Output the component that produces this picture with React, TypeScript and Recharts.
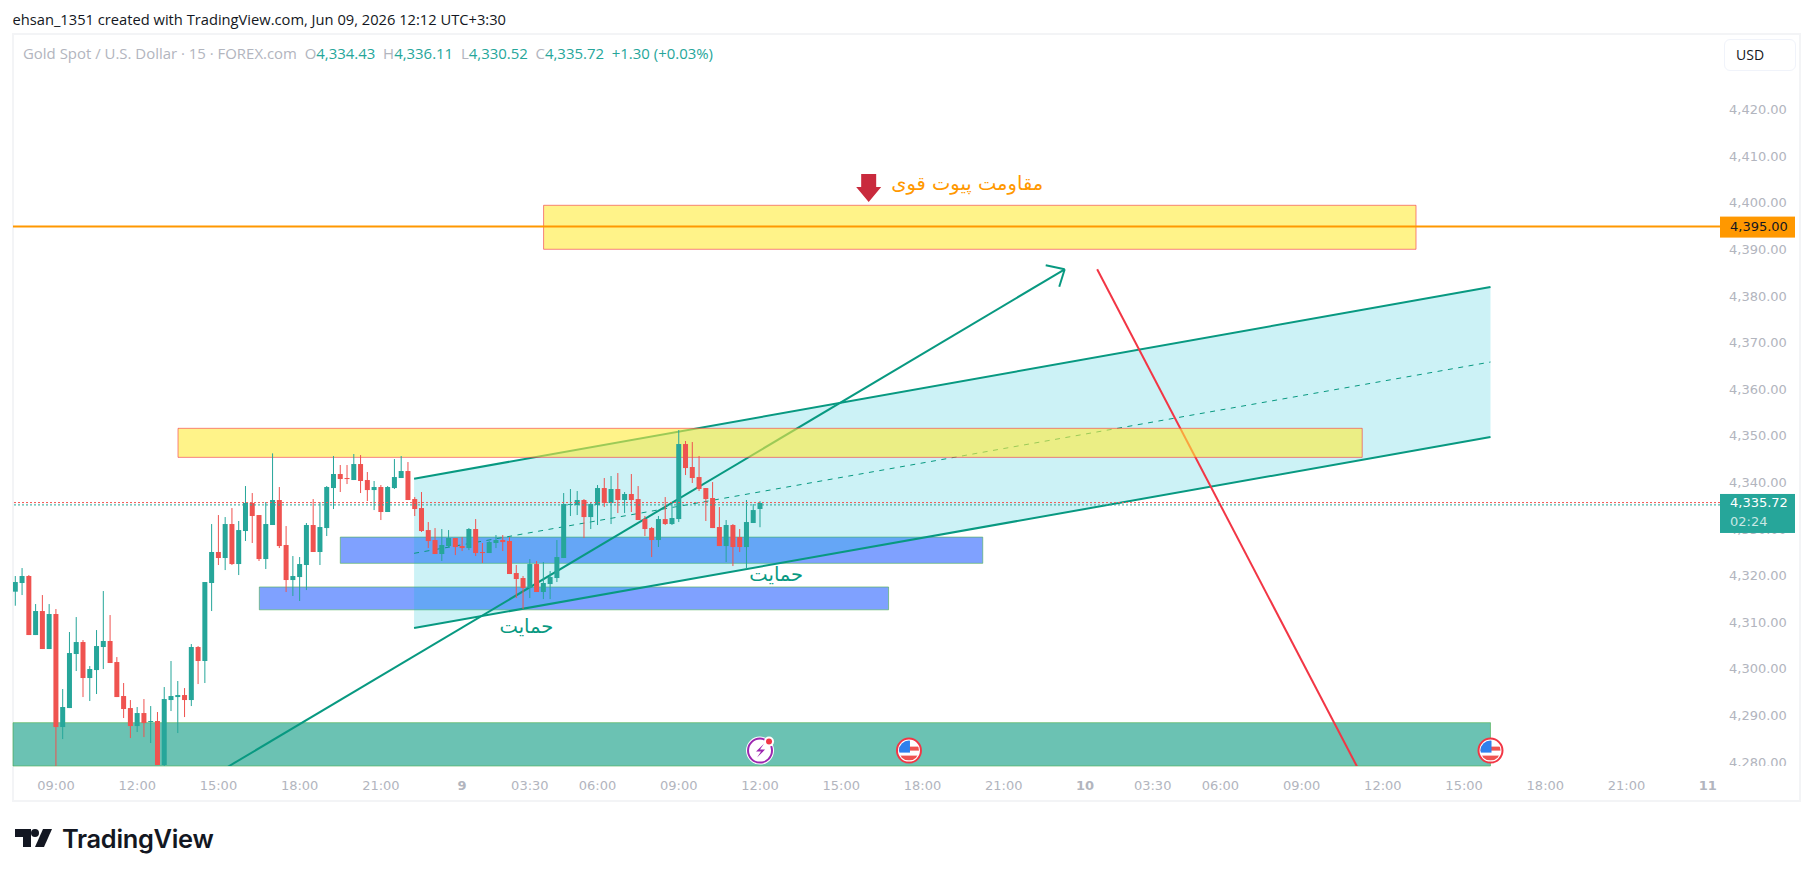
import React from "react";
import {
  ComposedChart, Bar, Line, Area, XAxis, YAxis, ReferenceArea, ReferenceLine, ReferenceDot,
} from "recharts";

const opens = [
  4316.69, 4318.55, 4320.05, 4307.39, 4312.54, 4304.39, 4311.90, 4287.66, 4291.73, 4303.32,
  4305.89, 4298.17, 4299.88, 4304.82, 4306.11, 4301.60, 4294.31, 4291.73, 4287.87, 4290.66,
  4288.73, 4288.95, 4279.51, 4293.45, 4294.09, 4294.52, 4293.45, 4304.82, 4301.82, 4318.55,
  4325.20, 4323.91, 4331.20, 4322.62, 4329.70, 4335.71, 4333.13, 4323.69, 4330.99, 4336.35,
  4326.70, 4319.19, 4319.83, 4322.41, 4330.99, 4325.20, 4330.34, 4338.92, 4341.93, 4341.07,
  4340.64, 4344.07, 4340.64, 4338.49, 4339.14, 4333.78, 4338.92, 4341.07, 4342.57, 4336.56,
  4334.63, 4329.91, 4327.77, 4324.77, 4326.48, 4328.20, 4326.48, 4326.05, 4330.13, 4325.20,
  4324.98, 4327.13, 4327.77, 4327.56, 4320.69, 4319.62, 4317.47, 4322.62, 4316.62, 4318.33,
  4319.62, 4323.91, 4335.28, 4335.28, 4336.35, 4332.70, 4335.28, 4338.92, 4335.71, 4338.71,
  4336.35, 4337.64, 4336.56, 4332.27, 4330.34, 4327.77, 4332.27, 4331.20, 4332.27, 4348.36,
  4343.43, 4341.28, 4338.92, 4336.78, 4330.56, 4326.48, 4330.99, 4328.41, 4326.27, 4331.42, 4334.43,
];
const closes = [
  4318.76, 4320.05, 4307.39, 4312.54, 4304.39, 4311.90, 4287.66, 4291.95, 4303.53, 4305.89,
  4298.17, 4300.10, 4305.03, 4306.11, 4301.39, 4294.09, 4291.52, 4287.87, 4290.66, 4288.52,
  4288.95, 4279.51, 4293.66, 4294.31, 4294.52, 4293.45, 4304.82, 4301.82, 4318.76, 4325.20,
  4323.91, 4331.20, 4322.62, 4329.91, 4335.71, 4332.92, 4323.69, 4331.20, 4336.35, 4326.48,
  4319.19, 4320.05, 4322.62, 4330.99, 4325.20, 4330.56, 4339.14, 4341.93, 4340.85, 4340.85,
  4344.07, 4340.43, 4338.49, 4339.14, 4333.78, 4339.14, 4341.28, 4342.57, 4336.35, 4334.42,
  4329.70, 4327.56, 4324.77, 4326.70, 4328.20, 4326.27, 4326.05, 4330.13, 4324.98, 4324.98,
  4327.34, 4327.77, 4327.34, 4320.48, 4319.40, 4317.47, 4322.62, 4316.62, 4318.55, 4319.83,
  4324.12, 4335.49, 4335.49, 4336.35, 4332.70, 4335.49, 4338.92, 4335.71, 4338.71, 4336.35,
  4337.64, 4336.35, 4332.06, 4330.13, 4327.77, 4332.27, 4331.20, 4332.49, 4348.36, 4343.21,
  4341.07, 4338.71, 4336.56, 4330.34, 4326.48, 4330.99, 4326.27, 4326.27, 4331.63, 4334.20, 4335.72,
];
const highs = [
  4320.05, 4321.76, 4320.26, 4314.04, 4315.97, 4314.04, 4312.97, 4295.81, 4308.04, 4311.25,
  4306.32, 4300.74, 4308.46, 4316.83, 4311.68, 4302.67, 4297.10, 4293.45, 4291.95, 4293.66,
  4292.16, 4290.88, 4296.24, 4301.82, 4297.53, 4296.02, 4305.46, 4305.03, 4318.76, 4331.20,
  4333.13, 4332.70, 4334.63, 4331.85, 4339.35, 4337.85, 4333.13, 4335.92, 4346.36, 4339.14,
  4330.77, 4324.34, 4324.12, 4331.42, 4336.56, 4335.92, 4339.35, 4345.79, 4343.86, 4343.86,
  4346.22, 4346.00, 4342.36, 4340.43, 4339.57, 4339.35, 4345.14, 4345.79, 4344.50, 4336.99,
  4338.07, 4331.63, 4330.34, 4330.13, 4329.91, 4328.20, 4328.41, 4330.34, 4332.27, 4327.13,
  4327.56, 4328.84, 4328.84, 4328.41, 4322.41, 4320.05, 4323.69, 4323.27, 4323.05, 4321.12,
  4327.77, 4337.85, 4338.71, 4338.28, 4336.56, 4335.71, 4339.57, 4341.07, 4341.50, 4342.14,
  4338.07, 4341.93, 4339.35, 4332.92, 4330.56, 4332.92, 4336.99, 4335.49, 4351.36, 4349.01,
  4348.79, 4345.79, 4338.92, 4340.21, 4334.85, 4332.06, 4331.20, 4330.13, 4336.35, 4335.49, 4336.11,
];
const lows = [
  4313.68, 4315.97, 4307.39, 4307.39, 4304.39, 4304.39, 4278.00, 4285.08, 4291.73, 4299.67,
  4294.09, 4293.24, 4294.74, 4300.10, 4301.39, 4294.09, 4289.59, 4285.30, 4286.59, 4285.51,
  4284.23, 4279.51, 4279.00, 4291.09, 4286.37, 4289.80, 4292.16, 4296.88, 4297.10, 4312.54,
  4322.41, 4321.33, 4322.41, 4320.26, 4327.56, 4327.13, 4323.27, 4321.55, 4330.99, 4326.05,
  4316.62, 4315.76, 4314.69, 4317.04, 4325.20, 4322.41, 4328.63, 4334.42, 4338.07, 4339.78,
  4340.64, 4337.85, 4336.14, 4334.20, 4332.06, 4333.78, 4338.71, 4341.07, 4336.35, 4332.92,
  4329.49, 4326.05, 4324.77, 4323.27, 4326.27, 4324.55, 4325.41, 4325.62, 4324.34, 4322.84,
  4324.98, 4326.05, 4325.41, 4320.48, 4315.33, 4312.97, 4315.33, 4316.62, 4315.11, 4315.11,
  4318.76, 4323.91, 4332.92, 4333.13, 4328.20, 4330.13, 4330.99, 4334.85, 4331.20, 4333.56,
  4333.56, 4333.78, 4332.06, 4328.63, 4324.12, 4326.27, 4330.99, 4330.99, 4331.63, 4341.71,
  4340.00, 4338.28, 4331.85, 4330.34, 4326.48, 4323.05, 4322.19, 4325.20, 4321.55, 4331.42, 4330.52,
];

const timeTicks = [6, 18, 30, 42, 54, 66, 76, 86, 98, 110, 122, 134, 146, 158, 168, 178, 190, 202, 214, 226, 238, 250];
const timeLabels = ["09:00", "12:00", "15:00", "18:00", "21:00", "9", "03:30", "06:00", "09:00", "12:00", "15:00", "18:00", "21:00", "10", "03:30", "06:00", "09:00", "12:00", "15:00", "18:00", "21:00", "11"];
const priceTicks = [4280, 4290, 4300, 4310, 4320, 4330, 4340, 4350, 4360, 4370, 4380, 4390, 4400, 4410, 4420];

const candles = opens.map((o, i) => ({ i, o, h: highs[i], l: lows[i], c: closes[i] }));

const channelFill = [
  { i: 58.9, band: [4308.89, 4340.92] },
  { i: 217.9, band: [4349.86, 4382.04] },
];
const channelTop = [{ i: 58.9, v: 4340.92 }, { i: 217.9, v: 4382.04 }];
const channelMid = [{ i: 58.9, v: 4324.92 }, { i: 217.9, v: 4365.95 }];
const channelLow = [{ i: 58.9, v: 4308.89 }, { i: 217.9, v: 4349.86 }];
const arrowShaft = [{ i: 31.4, v: 4279.14 }, { i: 155.0, v: 4385.84 }];
const arrowHeadA = [{ i: 152.2, v: 4386.7 }, { i: 155.0, v: 4385.84 }];
const arrowHeadB = [{ i: 154.2, v: 4382.1 }, { i: 155.0, v: 4385.84 }];
const redLine = [{ i: 159.8, v: 4385.84 }, { i: 198.2, v: 4279.14 }];

const UP = "#26a69a";
const DOWN = "#ef5350";
const AXIS_FONT = "'DejaVu Sans', sans-serif";
const UI_FONT = "'Open Sans', sans-serif";
const AXIS_GRAY = "#b2b5be";

const Candle = (p: any) => {
  const { x, y, width, height, payload } = p;
  const d = payload;
  const h = Math.abs(height);
  const unit = h / (d.h - d.l);
  const top = Math.min(y, y + height);
  const yOf = (v: number) => top + (d.h - v) * unit;
  const bt = yOf(Math.max(d.o, d.c));
  const bb = yOf(Math.min(d.o, d.c));
  const cx = x + width / 2;
  const col = d.c >= d.o ? UP : DOWN;
  return (
    <g>
      <rect x={cx - 0.5} y={top} width={1} height={h} fill={col} />
      <rect x={cx - 2.5} y={bt} width={5} height={Math.max(bb - bt, 1)} fill={col} />
    </g>
  );
};

const XTick = (p: any) => {
  const idx = timeTicks.indexOf(p.payload.value);
  const label = timeLabels[idx];
  const bold = label.length <= 2;
  return (
    <text x={p.x} y={790} textAnchor="middle" fontFamily={AXIS_FONT} fontSize={13} fontWeight={bold ? 700 : 400} fill={AXIS_GRAY}>
      {label}
    </text>
  );
};

const YTick = (p: any) => {
  const v = p.payload.value;
  const hidden = v === 4330;
  return (
    <g>
      {hidden && (
        <clipPath id="below-close-tag"><rect x={1720} y={533} width={80} height={20} /></clipPath>
      )}
      <text
        x={1729} y={p.y + 4} fontFamily={AXIS_FONT} fontSize={13} fill={AXIS_GRAY}
        clipPath={hidden ? "url(#below-close-tag)" : undefined}
      >
        {v.toLocaleString("en-US", { minimumFractionDigits: 2, maximumFractionDigits: 2 })}
      </text>
    </g>
  );
};

const OrangeTag = (p: any) => {
  const y = p.viewBox.y;
  return (
    <g>
      <rect x={1720} y={y - 10} width={75} height={21} fill="#ff9800" />
      <text x={1730} y={y + 4.5} fontFamily={AXIS_FONT} fontSize={13} fill="#131722">4,395.00</text>
    </g>
  );
};
const CloseTag = (p: any) => {
  const y = p.viewBox.y;
  return (
    <g>
      <rect x={1720} y={y - 9} width={75} height={39} fill={UP} />
      <text x={1730} y={y + 4.5} fontFamily={AXIS_FONT} fontSize={13} fontWeight={500} fill="#ffffff">4,335.72</text>
      <text x={1730} y={y + 23.5} fontFamily={AXIS_FONT} fontSize={13} fill="#ffffff" fillOpacity={0.75}>02:24</text>
    </g>
  );
};

const Note = (color: string, text: string, size: number) => (p: any) => (
  <text x={p.cx} y={p.cy + 6} textAnchor="middle" direction="rtl" fontFamily="'DejaVu Sans', sans-serif" fontSize={size} fill={color}>
    {text}
  </text>
);

const DownArrow = (p: any) => {
  const { cx, cy } = p;
  return (
    <path
      d={`M${cx - 7.5} ${cy - 28} H${cx + 7.5} V${cy - 15} H${cx + 12.5} L${cx} ${cy} L${cx - 12.5} ${cy - 15} H${cx - 7.5} Z`}
      fill="#c92a3d"
    />
  );
};

const Bolt = (p: any) => {
  const { cx, cy } = p;
  return (
    <g>
      <circle cx={cx} cy={cy} r={14} fill="#ffffff" />
      <circle cx={cx} cy={cy} r={12} fill="#ffffff" stroke="#9c27b0" strokeWidth={2} />
      <path d={`M${cx + 4} ${cy - 7} L${cx - 4} ${cy + 1} H${cx + 1} L${cx - 3} ${cy + 7} L${cx + 5} ${cy - 1} H${cx} Z`} fill="#9c27b0" />
      <circle cx={cx + 9} cy={cy - 9} r={5} fill="#ffffff" />
      <circle cx={cx + 9} cy={cy - 9} r={3} fill="#f23645" />
    </g>
  );
};

const Flag = (p: any) => {
  const { cx, cy } = p;
  const clip = `flag-${Math.round(cx)}`;
  return (
    <g>
      <clipPath id={clip}><circle cx={cx} cy={cy} r={10} /></clipPath>
      <circle cx={cx} cy={cy} r={12} fill="#ffffff" stroke="#f23645" strokeWidth={2} />
      <g clipPath={`url(#${clip})`}>
        <rect x={cx - 11} y={cy - 11} width={22} height={22} fill="#ffffff" />
        <rect x={cx - 11} y={cy - 4} width={22} height={4} fill="#ef5350" />
        <rect x={cx - 11} y={cy + 5} width={22} height={5} fill="#ef5350" />
        <rect x={cx - 11} y={cy - 11} width={12} height={13} fill="#2f80ed" />
      </g>
    </g>
  );
};

const rectStyle = (fill: string, stroke: string) => ({
  fill, fillOpacity: 0.6, stroke, strokeOpacity: 0.6, strokeWidth: 1,
});

export default function App() {
  const zChannel: any = { zIndex: 200 };
  const zFront: any = { zIndex: 450 };
  const zBar: any = { zIndex: 500 };
  const zLine: any = { zIndex: 600 };
  return (
    <div style={{ position: "absolute", left: 0, top: 0, width: 1814, height: 877, background: "#ffffff", overflow: "hidden" }}>
      <div style={{ position: "absolute", left: 12, top: 33, width: 1789, height: 769, border: "2px solid #f3f4f6", boxSizing: "border-box" }} />
      <div style={{ position: "absolute", left: 0, top: 0 }}>
        <ComposedChart width={1814} height={877} data={candles} margin={{ top: 34, left: 13, right: 0, bottom: 75 }}>
          <XAxis
            dataKey="i" type="number" domain={[-0.344, 251.8]} allowDataOverflow ticks={timeTicks}
            height={36} axisLine={false} tickLine={false} tick={XTick} interval={0}
          />
          <YAxis
            orientation="right" type="number" domain={[4279.3, 4436.31]} allowDataOverflow ticks={priceTicks}
            width={94} axisLine={false} tickLine={false} tick={YTick} interval={0}
          />
          <Area {...zChannel} data={channelFill} dataKey="band" stroke="none" fill="#00bcd4" fillOpacity={0.2} isAnimationActive={false} dot={false} activeDot={false} />
          <Line data={channelTop} dataKey="v" stroke="#089981" strokeWidth={2} dot={false} activeDot={false} isAnimationActive={false} />
          <Line data={channelMid} dataKey="v" stroke="#089981" strokeWidth={1} strokeDasharray="5 5.5" dot={false} activeDot={false} isAnimationActive={false} />
          <Line data={channelLow} dataKey="v" stroke="#089981" strokeWidth={2} dot={false} activeDot={false} isAnimationActive={false} />
          <Line data={arrowShaft} dataKey="v" stroke="#089981" strokeWidth={2} dot={false} activeDot={false} isAnimationActive={false} />
          <Line data={arrowHeadA} dataKey="v" stroke="#089981" strokeWidth={2} dot={false} activeDot={false} isAnimationActive={false} />
          <Line data={arrowHeadB} dataKey="v" stroke="#089981" strokeWidth={2} dot={false} activeDot={false} isAnimationActive={false} />
          <Line data={redLine} dataKey="v" stroke="#f23645" strokeWidth={2} dot={false} activeDot={false} isAnimationActive={false} />

          <ReferenceArea {...zFront} x1={78.03} x2={206.9} y1={4390.13} y2={4399.57} {...rectStyle("#ffeb3b", "#f23645")} />
          <ReferenceArea {...zFront} x1={24.03} x2={198.95} y1={4345.5} y2={4351.73} {...rectStyle("#ffeb3b", "#f23645")} />
          <ReferenceArea x1={48.0} x2={142.9} y1={4322.77} y2={4328.4} {...rectStyle("#2962ff", "#4caf50")} />
          <ReferenceArea x1={36.04} x2={128.99} y1={4312.8} y2={4317.7} {...rectStyle("#2962ff", "#4caf50")} />
          <ReferenceArea x1={-0.344} x2={217.9} y1={4279.3} y2={4288.6} {...rectStyle("#089981", "#4caf50")} />

          <Bar {...zBar} dataKey={(d: any) => [d.l, d.h]} barSize={5} shape={Candle} isAnimationActive={false} />

          <ReferenceLine {...zLine} y={4395} stroke="#ff9800" strokeWidth={2} label={<OrangeTag />} />
          <ReferenceLine {...zLine} y={4335.8} stroke={DOWN} strokeWidth={1} strokeDasharray="2 2" />
          <ReferenceLine {...zLine} y={4335.3} stroke={UP} strokeWidth={1} strokeDasharray="2 2" />
          <ReferenceLine {...zLine} y={4335.72} stroke="none" label={<CloseTag />} />

          <ReferenceDot x={140.6} y={4404.1} r={0} shape={Note("#ff9800", "مقاومت پیوت قوی", 19.5)} />
          <ReferenceDot x={75.5} y={4309.1} r={0} shape={Note("#089981", "حمایت", 19.5)} />
          <ReferenceDot x={112.4} y={4320.26} r={0} shape={Note("#089981", "حمایت", 19.5)} />
          <ReferenceDot x={126.05} y={4400.27} r={0} shape={DownArrow} />
          <ReferenceDot x={110} y={4282.6} r={0} shape={Bolt} />
          <ReferenceDot x={132} y={4282.6} r={0} shape={Flag} />
          <ReferenceDot x={217.9} y={4282.6} r={0} shape={Flag} />
        </ComposedChart>
      </div>

      <div style={{ position: "absolute", left: 1722, top: 766, width: 76, height: 10, background: "#ffffff" }} />

      <div style={{ position: "absolute", left: 12.5, top: 9, fontFamily: UI_FONT, fontSize: 14.7, color: "#131722", whiteSpace: "nowrap" }}>
        ehsan_1351 created with TradingView.com, Jun 09, 2026 12:12 UTC+3:30
      </div>
      <div style={{ position: "absolute", left: 23, top: 43, fontFamily: UI_FONT, fontSize: 14.95, color: AXIS_GRAY, whiteSpace: "nowrap" }}>
        Gold Spot / U.S. Dollar · 15 · FOREX.com&nbsp;&nbsp;O<span style={{ color: UP }}>4,334.43</span>&nbsp;&nbsp;H<span style={{ color: UP }}>4,336.11</span>&nbsp;&nbsp;L<span style={{ color: UP }}>4,330.52</span>&nbsp;&nbsp;C<span style={{ color: UP }}>4,335.72</span>&nbsp;&nbsp;<span style={{ color: UP }}>+1.30 (+0.03%)</span>
      </div>
      <div style={{ position: "absolute", left: 1724, top: 39, width: 72, height: 32, boxSizing: "border-box", border: "1px solid #f0f3fa", borderRadius: 6, background: "#fff", fontFamily: UI_FONT, fontSize: 14, color: "#131722", lineHeight: "30px", paddingLeft: 11 }}>
        USD
      </div>

      <svg style={{ position: "absolute", left: 15, top: 829 }} width={38} height={18} viewBox="0 0 38 18">
        <path d="M0 0 H16 V18 H8 V8 H0 Z" fill="#131722" />
        <circle cx={20} cy={4} r={4} fill="#131722" />
        <path d="M28 0 H37 L29 18 H20 Z" fill="#131722" />
      </svg>
      <div style={{ position: "absolute", left: 62, top: 823, fontFamily: "Inter, sans-serif", fontWeight: 600, fontSize: 25.4, color: "#131722", whiteSpace: "nowrap", letterSpacing: -0.3 }}>
        TradingView
      </div>
    </div>
  );
}
